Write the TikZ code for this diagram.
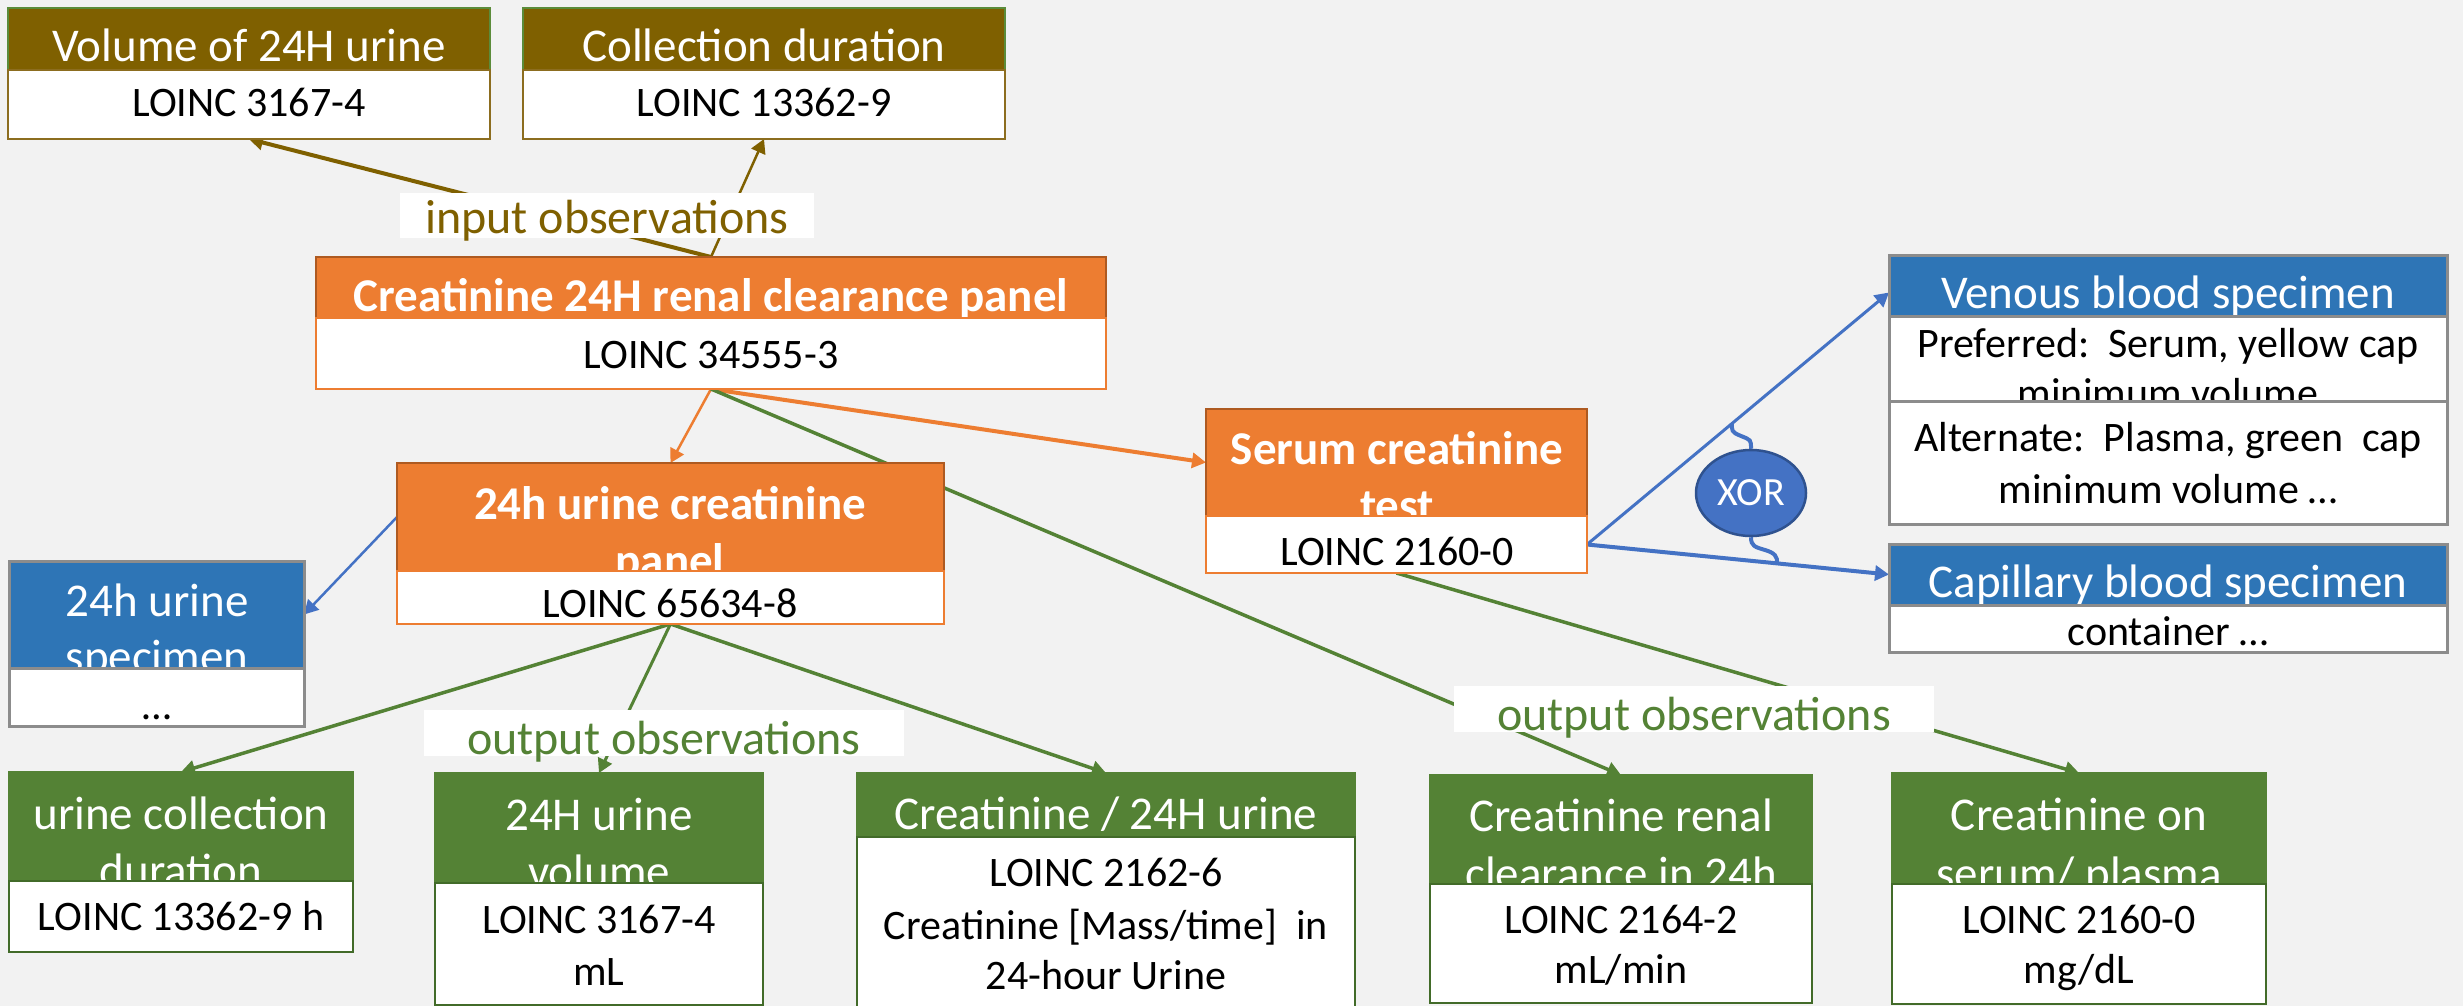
\documentclass[tikz,border=0pt]{standalone}
\usepackage{fontspec}
\setmainfont{Carlito}
\usetikzlibrary{arrows.meta,calc,shapes.geometric}
\definecolor{bgc}{HTML}{F2F2F2}
\definecolor{olv}{HTML}{7F6000}
\definecolor{olvb}{HTML}{8C6D1F}
\definecolor{olvg}{HTML}{5B8C3A}
\definecolor{grn}{HTML}{548235}
\definecolor{grnd}{HTML}{426B29}
\definecolor{org}{HTML}{ED7D31}
\definecolor{orgd}{HTML}{AE5A21}
\definecolor{blu}{HTML}{2E75B6}
\definecolor{gry}{HTML}{8C8C8C}
\definecolor{lblu}{HTML}{4472C4}
\definecolor{xord}{HTML}{2F528F}
\pgfdeclarelayer{back}
\pgfdeclarelayer{lines}
\pgfsetlayers{back,lines,main}
\newcommand\boxpart[6]{%
  \pgfmathsetmacro\bpw{#5-#3}\pgfmathsetmacro\bph{#6-#4}%
  \node[#1, minimum width=\bpw pt, minimum height=\bph pt] (#2) at ({(#3+#5)/2},{(#4+#6)/2}) {};}
\newcommand\tline[4]{\node[#1] (#2) at (#3) {#4};}
\tikzset{
  bpart/.style={rectangle, inner sep=0pt, outer sep=0pt, line width=2pt},
  olvh/.style={bpart, fill=olv, draw=olvg},
  olvbody/.style={bpart, fill=white, draw=olvb},
  orgh/.style={bpart, fill=org, draw=orgd, line width=2.5pt},
  orgbody/.style={bpart, fill=white, draw=org, line width=2.5pt},
  grnh/.style={bpart, fill=grn, draw=grn},
  grnbody/.style={bpart, fill=white, draw=grnd},
  bluh/.style={bpart, fill=blu, draw=gry, line width=3pt},
  blubody/.style={bpart, fill=white, draw=gry, line width=3pt},
  hw/.style={text=white, font=\fontsize{47}{56}\selectfont, inner sep=0pt, anchor=base},
  hwb/.style={text=white, font=\bfseries\fontsize{47}{56}\selectfont, inner sep=0pt, anchor=base},
  bk/.style={text=black, font=\fontsize{42}{50}\selectfont, inner sep=0pt, anchor=base},
  lblbox/.style={rectangle, fill=white, inner sep=0pt, outer sep=0pt},
  lt/.style={font=\fontsize{48}{58}\selectfont, inner sep=0pt, anchor=base},
  conn/.style={-{Triangle[length=14pt,width=15pt]}},
  xorst/.style={ellipse, fill=lblu, draw=xord, line width=2.5pt, minimum width=110pt,
    minimum height=86pt, inner sep=0pt, text=white, font=\fontsize{40}{48}\selectfont}
}
\frenchspacing
\begin{document}
\begin{tikzpicture}[x=1pt,y=-1pt]
\useasboundingbox (0,0) rectangle (2463,1006);
\begin{pgfonlayer}{back}
\fill[bgc] (0,0) rectangle (2463,1006);
\end{pgfonlayer}

% top olive boxes
\boxpart{olvh}{volh}{8}{8}{490}{70}
\tline{hw}{volht}{249,62}{Volume of 24H urine}
\boxpart{olvbody}{volb}{8}{70}{490}{139}
\tline{bk}{volbt}{249,117}{LOINC 3167-4}

\boxpart{olvh}{colh}{523}{8}{1005}{70}
\tline{hw}{colht}{764,62}{Collection duration}
\boxpart{olvbody}{colb}{523}{70}{1005}{139}
\tline{bk}{colbt}{764,117}{LOINC 13362-9}

% panel
\boxpart{orgh}{panh}{316}{257}{1106}{318}
\tline{hwb}{panht}{711,311}{Creatinine 24H renal clearance panel}
\boxpart{orgbody}{panb}{316}{318}{1106}{389}
\tline{bk}{panbt}{711,368}{LOINC 34555-3}

% 24h urine creatinine panel
\boxpart{orgh}{u24h}{397}{463}{944}{571}
\tline{hwb}{u24ht1}{670,519}{24h urine creatinine}
\tline{hwb}{u24ht2}{670,576}{panel}
\boxpart{orgbody}{u24b}{397}{571}{944}{624}
\tline{bk}{u24bt}{670,617}{LOINC 65634-8}

% specimen
\boxpart{bluh}{spech}{9}{561}{304}{668}
\tline{hw}{specht1}{157,616}{24h urine}
\tline{hw}{specht2}{157,672}{specimen}
\boxpart{blubody}{specb}{9}{668}{304}{726}
\tline{bk}{specbt}{157,719}{…}

% serum
\boxpart{orgh}{serh}{1206}{409}{1587}{516}
\tline{hwb}{serht1}{1397,464}{Serum creatinine}
\tline{hwb}{serht2}{1397,521}{test}
\boxpart{orgbody}{serb}{1206}{516}{1587}{573}
\tline{bk}{serbt}{1397,565}{LOINC 2160-0}

% venous
\boxpart{bluh}{venh}{1889}{255}{2447}{316}
\tline{hw}{venht}{2168,308}{Venous blood specimen}
\boxpart{blubody}{venb1}{1889}{316}{2447}{401}
\tline{bk}{venb1t1}{2168,357}{Preferred:\ \ Serum, yellow cap}
\tline{bk}{venb1t2}{2168,407}{minimum volume}
\boxpart{blubody}{venb2}{1889}{401}{2447}{524}
\tline{bk}{venb2t1}{2168,451}{Alternate:\ \ Plasma, green\ \ cap}
\tline{bk}{venb2t2}{2168,503}{minimum volume …}

% capillary
\boxpart{bluh}{caph}{1889}{544}{2447}{605}
\tline{hw}{capht}{2168,597}{Capillary blood specimen}
\boxpart{blubody}{capb}{1889}{605}{2447}{652}
\tline{bk}{capbt}{2168,645}{container …}

% XOR
\node[xorst] (xor) at (1751,493) {XOR};

% bottom green boxes
\boxpart{grnh}{ucdh}{9}{772}{353}{881}
\tline{hw}{ucdht1}{181,829}{urine collection}
\tline{hw}{ucdht2}{181,886}{duration}
\boxpart{grnbody}{ucdb}{9}{881}{353}{952}
\tline{bk}{ucdbt}{181,930}{LOINC 13362-9 h}

\boxpart{grnh}{uvolh}{435}{773}{763}{883}
\tline{hw}{uvolht1}{599,830}{24H urine}
\tline{hw}{uvolht2}{599,887}{volume}
\boxpart{grnbody}{uvolb}{435}{883}{763}{1005}
\tline{bk}{uvolbt1}{599,933}{LOINC 3167-4}
\tline{bk}{uvolbt2}{599,985}{mL}

\boxpart{grnh}{c24h}{857}{773}{1355}{837}
\tline{hw}{c24ht}{1106,829}{Creatinine / 24H urine}
\boxpart{grnbody}{c24b}{857}{837}{1355}{1020}
\tline{bk}{c24bt1}{1106,886}{LOINC 2162-6}
\tline{bk}{c24bt2}{1106,939}{Creatinine [Mass/time]\ \ in}
\tline{bk}{c24bt3}{1106,989}{24-hour Urine}

\boxpart{grnh}{crch}{1430}{775}{1812}{884}
\tline{hw}{crcht1}{1621,831}{Creatinine renal}
\tline{hw}{crcht2}{1621,889}{clearance in 24h}
\boxpart{grnbody}{crcb}{1430}{884}{1812}{1003}
\tline{bk}{crcbt1}{1621,933}{LOINC 2164-2}
\tline{bk}{crcbt2}{1621,983}{mL/min}

\boxpart{grnh}{cosh}{1892}{773}{2266}{884}
\tline{hw}{cosht1}{2079,830}{Creatinine on}
\tline{hw}{cosht2}{2079,889}{serum/ plasma}
\boxpart{grnbody}{cosb}{1892}{884}{2266}{1004}
\tline{bk}{cosbt1}{2079,933}{LOINC 2160-0}
\tline{bk}{cosbt2}{2079,983}{mg/dL}

% labels
\node[lblbox, minimum width=414pt, minimum height=45pt] (inl) at (607,215.5) {};
\tline{lt, text=olv}{inlt}{607,233}{input observations}
\node[lblbox, minimum width=480pt, minimum height=46pt] (outl1) at (664,733) {};
\tline{lt, text=grn}{outl1t}{664,754}{output observations}
\node[lblbox, minimum width=480pt, minimum height=46pt] (outl2) at (1694,709) {};
\tline{lt, text=grn}{outl2t}{1694,730}{output observations}

% connectors
\coordinate (vtip) at ([yshift=-7pt]venh.west);
\coordinate (br1) at ($(serb.east)!0.48!(vtip)$);
\coordinate (br2) at ($(serb.east)!0.63!(caph.west)$);
\begin{pgfonlayer}{lines}
\draw[conn, olv, line width=4pt] (panh.north) -- (volb.south);
\draw[conn, olv, line width=2.5pt] (panh.north) -- (colb.south);
\draw[conn, org, line width=2.5pt] (panb.south) -- (u24h.north);
\draw[conn, org, line width=4pt] (panb.south) -- (serh.west);
\draw[conn, grn, line width=3.5pt] (panb.south) -- (crch.north);
\draw[conn, grn, line width=3.5pt] (serb.south) -- (cosh.north);
\draw[conn, grn, line width=3.5pt] (u24b.south) -- (ucdh.north);
\draw[conn, grn, line width=3pt] (u24b.south) -- (uvolh.north);
\draw[conn, grn, line width=3.5pt] (u24b.south) -- (c24h.north);
\draw[conn, lblu, line width=2.5pt] (u24h.west) -- (spech.east);
\draw[conn, lblu, line width=3pt] (serb.east) -- (vtip);
\draw[conn, lblu, line width=4pt] (serb.east) -- (caph.west);
\draw[lblu, line width=4pt] (xor.north) .. controls +(0,-9) and +(10,4) .. (1741,436)
  .. controls +(-10,-4) and +(0,7) .. (br1);
\draw[lblu, line width=4pt] (xor.south) .. controls +(0,9) and +(-10,-3) .. (1765,550)
  .. controls +(10,3) and +(0,-7) .. (br2);
\end{pgfonlayer}
\end{tikzpicture}
\end{document}
